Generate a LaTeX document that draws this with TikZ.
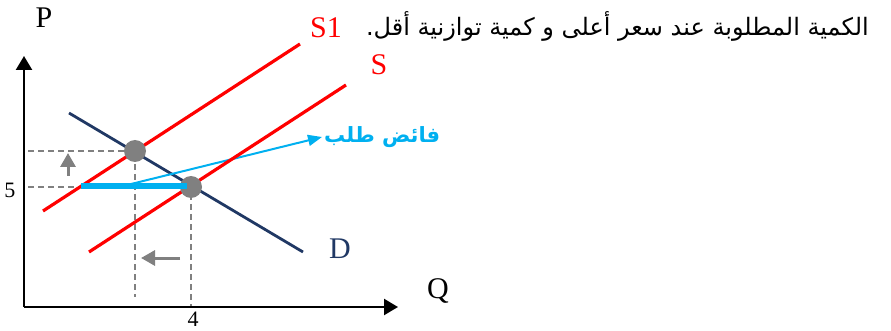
\documentclass[tikz,border=0pt]{standalone}
\usepackage{fontspec}
\setmainfont{Liberation Serif}
\newfontfamily\arabicfont[Script=Arabic]{DejaVu Sans}
\TeXXeTstate=1
\usetikzlibrary{arrows.meta}
\definecolor{dnavy}{RGB}{32,56,100}
\definecolor{skyline}{RGB}{0,176,240}

\begin{document}
\begin{tikzpicture}[x=1pt, y=-1pt,
  axis/.style={line width=2.4pt, -{Triangle[length=14pt, width=16pt]}},
  supply/.style={line width=3.2pt, red},
  demand/.style={line width=2.8pt, dnavy},
  guide/.style={line width=1.5pt, gray, dash pattern=on 6pt off 4pt},
  shiftarrow/.style={line width=3pt, gray, -{Triangle[length=14pt, width=15pt]}},
  eqdot/.style={circle, fill=gray, minimum size=22pt, inner sep=0pt},
  excess/.style={line width=2pt, skyline, -{Triangle[length=14pt, width=11pt]}},
  curvelabel/.style={font=\fontsize{30}{30}\selectfont, inner sep=0pt},
  ticklabel/.style={font=\fontsize{22}{22}\selectfont, inner sep=0pt}
]
\useasboundingbox (0,0) rectangle (891,331);

\coordinate (O) at (24,307);
\coordinate (ytop) at (24,56);
\coordinate (xend) at (398,307);
\coordinate (s1lo) at (43,211);
\coordinate (s1hi) at (300,44);
\coordinate (slo) at (89,252);
\coordinate (shi) at (346,85);
\coordinate (dhi) at (69,113);
\coordinate (dlo) at (303,252);
\coordinate (eq1) at (135,151);
\coordinate (eq0) at (191,187);

\coordinate (p1) at (28,151);
\coordinate (q1) at (135,297);
\coordinate (p0) at (28,187);
\coordinate (q0) at (191,306);
\coordinate (upA) at (68,176);
\coordinate (upB) at (68,153);
\coordinate (leftA) at (180,258);
\coordinate (leftB) at (141,258);
\coordinate (gapL) at (81,186);
\coordinate (gapM) at (127,185);
\coordinate (gapR) at (187,186);

\node[curvelabel] (plab) at (44,18) {P};
\node[curvelabel] (qlab) at (438,291) {Q};
\node[curvelabel, red] (s1lab) at (326,28) {S1};
\node[curvelabel, red] (slab) at (379,65) {S};
\node[curvelabel, dnavy] (dlab) at (340,249) {D};
\node[ticklabel] (five) at (10,190) {5};
\node[ticklabel] (four) at (193,319) {4};
\node[font=\arabicfont\bfseries\fontsize{21}{21}\selectfont, text=skyline, anchor=west, inner sep=2pt] (gap) at (322,137) {\beginR فائض طلب\endR};
\node[font=\arabicfont\fontsize{24}{24}\selectfont, inner sep=0pt, anchor=east] (title) at (869,26) {\beginR الكمية المطلوبة عند سعر أعلى و كمية توازنية أقل.\endR};

\draw[axis] (O) -- (ytop);
\draw[axis] (O) -- (xend);

\draw[guide] (p1) -- (eq1) -- (q1);
\draw[guide] (p0) -- (eq0) -- (q0);

\draw[shiftarrow] (upA) -- (upB);
\draw[shiftarrow] (leftA) -- (leftB);

\draw[demand] (dhi) -- (dlo);
\draw[excess] (gapM) -- (gap.west);
\draw[supply] (s1lo) -- (s1hi);
\draw[supply] (slo) -- (shi);

\node[eqdot] (e1) at (eq1) {};
\node[eqdot] (e0) at (eq0) {};

\draw[line width=6pt, skyline] (gapL) -- (gapR);
\end{tikzpicture}
\end{document}
